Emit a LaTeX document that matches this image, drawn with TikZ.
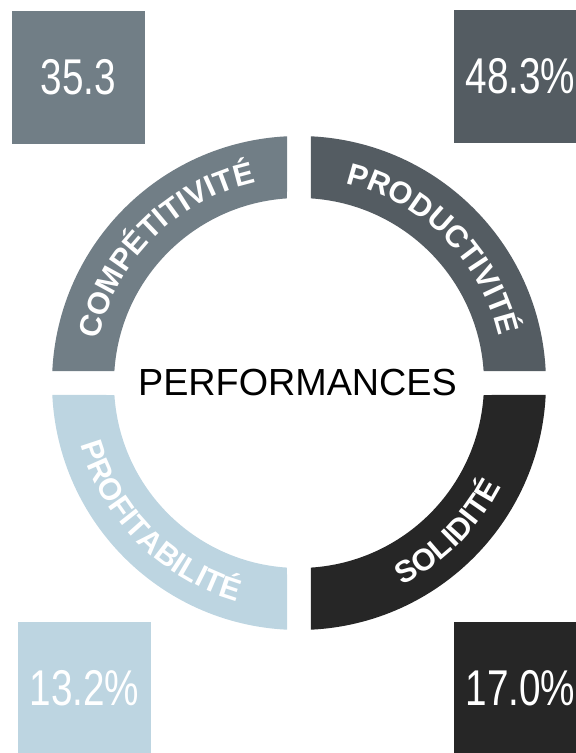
\documentclass[tikz,border=0pt]{standalone}
\usepackage{fontspec}
\setmainfont{Liberation Sans}
\newfontfamily\numfont[FakeStretch=0.77]{Liberation Sans}
\usetikzlibrary{decorations.text}

\definecolor{compcol}{HTML}{717E86}
\definecolor{prodcol}{HTML}{545C62}
\definecolor{profcol}{HTML}{BDD5E1}
\definecolor{solcol}{HTML}{262626}

\newcommand\lblfont{\fontsize{23}{23}\selectfont\bfseries}

\begin{document}
\begin{tikzpicture}[
            x=0.75pt, y=0.75pt,
            valbox/.style={rectangle, inner sep=0pt, minimum size=99.75pt,
                            text=white, font=\numfont\fontsize{37.7}{40}\selectfont},
            ringlabel/.style={decorate, decoration={text along path,
                            text align=center, text color=white}}
        ]

            \useasboundingbox (-299,383) rectangle (276,-370);

            % ring segments
            \foreach \a/\c in {0/prodcol, 90/compcol, 180/profcol, 270/solcol}
                \fill[\c] ({\a+2.785}:247) arc[start angle=\a+2.785, end angle=\a+87.215, radius=247]
                    -- ({\a+86.28}:185) arc[start angle=\a+86.28, end angle=\a+3.72, radius=185] -- cycle;

            \path[ringlabel, decoration={text={|\lblfont|COMPÉTITIVITÉ}}]
                (180:205) arc[start angle=180, end angle=90, radius=205];
            \path[ringlabel, decoration={text={|\lblfont|PRODUCTIVITÉ}}]
                (90:205) arc[start angle=90, end angle=0, radius=205];
            \path[ringlabel, decoration={text={|\lblfont|PROFITABILITÉ}}]
                (180:227) arc[start angle=180, end angle=270, radius=227];
            \path[ringlabel, decoration={text={|\lblfont|SOLIDITÉ}}]
                (270:227) arc[start angle=270, end angle=360, radius=227];

            \node[font=\fontsize{28.3}{30}\selectfont] (perf) at (-1.5,0) {PERFORMANCES};

            % value boxes
            \node[valbox, fill=compcol] (comp) at (-220.5,305.5) {35.3};
            \node[valbox, fill=prodcol] (prod) at (221.5,306.5) {48.3\%};
            \node[valbox, fill=profcol] (prof) at (-214.5,-305.5) {13.2\%};
            \node[valbox, fill=solcol] (sol) at (221.5,-305.5) {17.0\%};

        \end{tikzpicture}
\end{document}
